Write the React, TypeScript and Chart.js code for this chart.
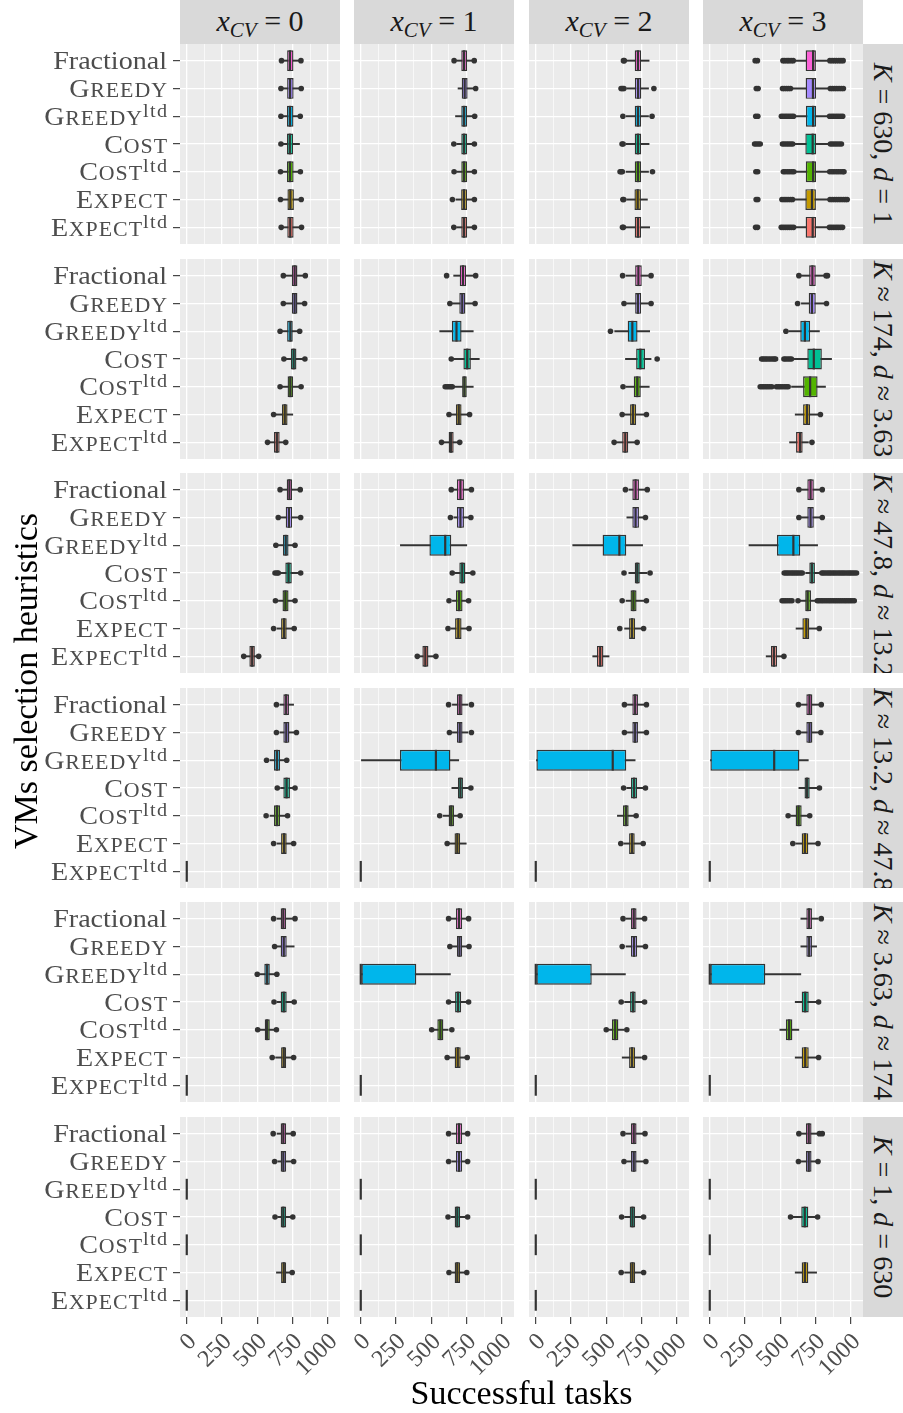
import React, { useEffect, useRef } from 'react';
import { Chart, registerables } from 'chart.js';

Chart.register(...registerables);

// ---------------- data ----------------
const heuristicNames = ['Fractional', 'Greedy', 'Greedy', 'Cost', 'Cost', 'Expect', 'Expect'];
const heuristicSmallCaps = [false, true, true, true, true, true, true];
const heuristicSuperscripts = ['', '', 'ltd', '', 'ltd', '', 'ltd'];
const boxColors = ['#FB61D7', '#A58AFF', '#00B6EB', '#00C094', '#53B400', '#C49A00', '#F8766D'];

const xcvValues = ['0', '1', '2', '3'];
const kRelations = ['=', '≈', '≈', '≈', '≈', '='];
const kValues = ['630', '174', '47.8', '13.2', '3.63', '1'];
const dRelations = ['=', '≈', '≈', '≈', '≈', '='];
const dValues = ['1', '3.63', '13.2', '47.8', '174', '630'];

const xMajorTicks = [0, 250, 500, 750, 1000];
const xMinorTicks = [125, 375, 625, 875];
const xTitle = 'Successful tasks';
const yTitle = 'VMs selection heuristics';

// each tuple: [lower whisker, Q1, median, Q3, upper whisker]; [column][heuristic]
const statsK630 = [
  [[685, 712, 732, 757, 795], [683, 712, 733, 758, 797], [684, 711, 732, 757, 792], [684, 711, 731, 755, 800], [683, 711, 732, 758, 795], [682, 714, 735, 760, 798], [686, 713, 734, 758, 800]],
  [[680, 713, 733, 755, 790], [690, 716, 737, 758, 800], [672, 713, 733, 755, 795], [680, 713, 733, 755, 790], [680, 713, 733, 755, 790], [675, 712, 732, 754, 790], [680, 713, 733, 755, 790]],
  [[645, 702, 725, 748, 804], [645, 703, 726, 749, 800], [642, 702, 725, 748, 800], [642, 702, 725, 748, 804], [640, 702, 725, 748, 800], [645, 700, 723, 746, 792], [642, 702, 725, 748, 808]],
  [[600, 680, 733, 753, 840], [590, 680, 732, 755, 842], [605, 682, 733, 755, 838], [600, 678, 730, 755, 843], [606, 681, 733, 754, 840], [600, 678, 725, 753, 842], [605, 680, 730, 754, 838]],
];
const outliersK630 = [
  [[672, 810], [668, 812], [668, 805], [668], [665, 806], [665, 812], [670, 814]],
  [[662, 805], [815], [808], [660, 806], [662, 806], [650, 806], [660, 806]],
  [[622, 628], [605, 615, 625, 838], [618, 825], [612, 620], [598, 606, 614, 828], [618, 624], [615, 622]],
  [
    [322, 338, 519, 532, 548, 561, 577, 592, 852, 868, 884, 899, 916, 931, 946],
    [330, 343, 516, 529, 544, 558, 573, 855, 870, 886, 901, 917, 933, 948],
    [326, 341, 508, 522, 537, 551, 566, 580, 594, 850, 866, 881, 897, 912, 928, 943],
    [318, 331, 345, 358, 516, 530, 545, 559, 574, 588, 856, 871, 887, 902, 918, 934],
    [327, 340, 522, 535, 551, 566, 582, 596, 851, 867, 882, 898, 913, 929, 944, 952],
    [329, 341, 512, 527, 541, 556, 572, 587, 853, 869, 885, 900, 916, 931, 947, 962, 975],
    [325, 339, 507, 521, 536, 551, 566, 580, 595, 849, 864, 880, 896, 911, 927, 942],
  ],
];

const statsK174 = [
  [[700, 745, 765, 785, 825], [700, 745, 765, 785, 825], [675, 712, 735, 752, 790], [700, 738, 758, 778, 825], [675, 715, 735, 755, 795], [630, 675, 695, 715, 752], [585, 619, 639, 659, 690]],
  [[659, 702, 725, 748, 800], [650, 699, 720, 742, 795], [560, 646, 679, 715, 798], [660, 728, 755, 781, 841], [665, 719, 735, 752, 798], [640, 675, 695, 715, 760], [590, 623, 640, 659, 690]],
  [[640, 705, 728, 752, 800], [645, 705, 725, 748, 800], [560, 652, 685, 722, 808], [636, 712, 742, 775, 818], [640, 695, 720, 745, 805], [630, 669, 690, 712, 770], [575, 613, 635, 656, 705]],
  [[650, 705, 728, 752, 810], [650, 702, 725, 752, 810], [560, 642, 675, 712, 778], [600, 692, 738, 795, 864], [580, 662, 712, 765, 821], [606, 662, 690, 712, 770], [566, 612, 640, 659, 700]],
];
const outliersK174 = [
  [[685, 841], [685, 836], [662, 801], [689, 838], [662, 811], [616], [573, 702]],
  [[609, 815], [632, 811], [], [642], [599, 612, 625, 638, 649], [626, 772], [573, 702]],
  [[616, 818], [626, 818], [530], [861], [619], [613, 785], [556, 719]],
  [
    [632, 825, 835], [623, 828], [540],
    [368, 379, 392, 404, 418, 431, 445, 457, 467, 526, 538, 552, 566, 579],
    [358, 371, 384, 398, 411, 425, 440, 473, 487, 500, 514, 529, 543, 556],
    [785], [725],
  ],
];

const statsK47 = [
  [[680, 709, 728, 748, 790], [670, 702, 725, 748, 790], [650, 682, 702, 722, 755], [660, 699, 722, 745, 790], [650, 679, 700, 722, 755], [640, 669, 690, 709, 750], [420, 444, 464, 483, 500]],
  [[660, 682, 707, 732, 770], [660, 682, 707, 732, 770], [281, 487, 599, 642, 752], [670, 699, 720, 742, 780], [650, 675, 698, 722, 750], [640, 669, 692, 715, 755], [415, 437, 458, 480, 520]],
  [[660, 685, 708, 732, 775], [646, 685, 708, 732, 765], [262, 474, 593, 642, 758], [660, 702, 720, 738, 790], [640, 672, 693, 715, 770], [630, 662, 683, 705, 750], [404, 434, 457, 480, 520]],
  [[650, 692, 715, 738, 780], [650, 692, 715, 738, 780], [278, 477, 593, 642, 765], [680, 706, 725, 746, 785], [640, 677, 694, 718, 756], [612, 657, 685, 706, 765], [400, 434, 455, 477, 510]],
];
const outliersK47 = [
  [[662, 805], [649, 808], [632, 768], [626, 640, 649, 808], [629, 768], [616, 762], [404, 510]],
  [[642, 785], [636, 781], [], [649, 795], [626, 765], [619, 768], [401, 533]],
  [[636, 791], [778], [], [626, 811], [613, 785], [596, 765], []],
  [
    [632, 798], [632, 798], [],
    [528, 541, 553, 566, 579, 591, 604, 617, 629, 643, 656, 795, 806, 819, 833, 846, 858, 872, 884, 897, 911, 924, 937, 949, 962, 976, 989, 1001, 1014, 1027, 1041],
    [513, 526, 539, 553, 568, 583, 626, 763, 776, 790, 803, 817, 831, 845, 858, 872, 886, 899, 913, 927, 941, 955, 968, 982, 996, 1010, 1025],
    [777], [526],
  ],
];

const statsK13 = [
  [[660, 685, 705, 725, 758], [660, 685, 706, 728, 765], [590, 619, 640, 662, 695], [665, 685, 708, 732, 755], [590, 619, 640, 662, 700], [640, 669, 690, 709, 745], [0, 0, 0, 0, 0]],
  [[650, 682, 702, 722, 760], [650, 682, 702, 722, 760], [0, 278, 533, 636, 695], [646, 689, 707, 725, 765], [585, 623, 642, 662, 690], [630, 665, 685, 705, 748], [0, 0, 0, 0, 0]],
  [[650, 685, 705, 725, 770], [650, 685, 705, 725, 770], [0, 0, 546, 642, 705], [645, 675, 697, 719, 760], [579, 619, 640, 659, 695], [625, 662, 683, 702, 745], [0, 0, 0, 0, 0]],
  [[650, 685, 707, 728, 775], [650, 685, 707, 728, 775], [0, 0, 457, 636, 699], [632, 672, 690, 709, 760], [575, 609, 630, 652, 695], [610, 652, 675, 699, 750], [0, 0, 0, 0, 0]],
];
const outliersK13 = [
  [[636], [636, 778], [566, 709], [642, 768], [563, 715], [616, 758], []],
  [[623, 785], [629, 785], [], [781], [560, 705], [613], []],
  [[629, 785], [629, 785], [], [623, 778], [712], [603, 762], []],
  [[629, 791], [629, 788], [], [778], [556, 709], [589, 768], []],
];

const statsK3 = [
  [[640, 666, 685, 705, 750], [640, 666, 688, 709, 762], [520, 550, 570, 589, 625], [640, 666, 688, 709, 750], [520, 553, 570, 589, 620], [630, 669, 688, 705, 745], [0, 0, 0, 0, 0]],
  [[640, 675, 697, 719, 750], [650, 682, 700, 719, 755], [0, 0, 0, 394, 636], [640, 669, 690, 712, 750], [520, 543, 565, 586, 620], [630, 666, 688, 709, 745], [0, 0, 0, 0, 0]],
  [[640, 675, 695, 715, 760], [640, 675, 697, 719, 760], [0, 0, 0, 397, 636], [630, 669, 690, 709, 755], [520, 540, 563, 586, 625], [613, 662, 683, 705, 750], [0, 0, 0, 0, 0]],
  [[646, 685, 705, 725, 770], [646, 685, 705, 725, 758], [0, 0, 0, 394, 646], [606, 652, 677, 702, 755], [497, 540, 563, 586, 632], [606, 652, 677, 702, 755], [0, 0, 0, 0, 0]],
];
const outliersK3 = [
  [[616, 768], [623], [500, 639], [619, 762], [503, 636], [606, 758], []],
  [[623, 765], [632, 768], [], [623, 765], [503, 646], [613, 755], []],
  [[619, 772], [613, 778], [], [606, 772], [500, 646], [772], []],
  [[791], [], [], [772], [], [772], []],
];

const statsK1 = [
  [[640, 666, 685, 705, 740], [645, 666, 685, 705, 740], [0, 0, 0, 0, 0], [645, 666, 685, 705, 740], [0, 0, 0, 0, 0], [636, 669, 688, 705, 735], [0, 0, 0, 0, 0]],
  [[645, 675, 697, 719, 745], [645, 675, 697, 719, 745], [0, 0, 0, 0, 0], [640, 666, 685, 705, 740], [0, 0, 0, 0, 0], [645, 666, 685, 705, 740], [0, 0, 0, 0, 0]],
  [[640, 675, 695, 715, 760], [645, 675, 695, 715, 765], [0, 0, 0, 0, 0], [630, 666, 686, 705, 750], [0, 0, 0, 0, 0], [630, 666, 686, 705, 750], [0, 0, 0, 0, 0]],
  [[650, 682, 702, 722, 765], [650, 682, 702, 722, 755], [0, 0, 0, 0, 0], [590, 649, 674, 699, 750], [0, 0, 0, 0, 0], [606, 652, 675, 699, 758], [0, 0, 0, 0, 0]],
];
const outliersK1 = [
  [[613, 755], [623, 758], [], [626, 752], [], [748], []],
  [[623, 758], [623, 758], [], [619, 758], [], [626, 752], []],
  [[619, 775], [626, 781], [], [609, 765], [], [606, 765], []],
  [[632, 778, 798], [629, 768], [], [573, 765], [], [], []],
];

const rowStats = [statsK630, statsK174, statsK47, statsK13, statsK3, statsK1];
const rowOutliers = [outliersK630, outliersK174, outliersK47, outliersK13, outliersK3, outliersK1];

// ---------------- layout / style ----------------
const FONT = '"Liberation Serif", "Times New Roman", serif';
const COL_LEFT = [180, 354, 529, 703];
const ROW_TOP = [44, 259, 473, 688, 902, 1117];
const PANEL_W = 160;
const PANEL_H = 200;
const Y_AXIS_W = 180;
const X_AXIS_H = 80;
const LABEL_SIZE = 26;
const LABEL_STRETCH = 1.08;
const X_TICK_SIZE = 24;
const STRIP_SIZE = 30;
const SIDE_STRIP_SIZE = 28;
const X_MIN = -48;
const X_MAX = 1087;

const panelBg = {
  id: 'panelBg',
  beforeDraw(chart: any) {
    const { ctx, chartArea: a } = chart;
    ctx.save();
    ctx.fillStyle = '#EBEBEB';
    ctx.fillRect(a.left, a.top, a.right - a.left, a.bottom - a.top);
    ctx.restore();
  },
};

type Seg = { text: string; size: number; dy: number; spacing: number; gap: number };

const yLabels = {
  id: 'yLabels',
  afterDraw(chart: any) {
    const ctx = chart.ctx;
    const ys = chart.scales.y;
    const right = chart.chartArea.left - 13;
    ctx.save();
    ctx.fillStyle = '#4D4D4D';
    ctx.textBaseline = 'alphabetic';
    ctx.textAlign = 'left';
    heuristicNames.forEach((name, i) => {
      const y = ys.getPixelForValue(i + 1) + 8.5;
      const segs: Seg[] = [];
      if (heuristicSmallCaps[i]) {
        segs.push({ text: name[0], size: LABEL_SIZE, dy: 0, spacing: 0, gap: 0 });
        segs.push({ text: name.slice(1).toUpperCase(), size: LABEL_SIZE * 0.78, dy: 0, spacing: 0.9, gap: 0.6 });
      } else {
        segs.push({ text: name, size: LABEL_SIZE, dy: 0, spacing: 0, gap: 0 });
      }
      if (heuristicSuperscripts[i]) {
        segs.push({ text: heuristicSuperscripts[i], size: LABEL_SIZE * 0.72, dy: -LABEL_SIZE * 0.3, spacing: 1.2, gap: 1 });
      }
      const widthOf = (s: Seg) => {
        ctx.font = `${s.size}px ${FONT}`;
        let w = s.gap;
        for (const ch of s.text) w += ctx.measureText(ch).width + s.spacing;
        return w - s.spacing;
      };
      let total = 0;
      segs.forEach((s) => (total += widthOf(s)));
      ctx.save();
      ctx.translate(right, y);
      ctx.scale(LABEL_STRETCH, 1);
      let x = -total;
      segs.forEach((s) => {
        ctx.font = `${s.size}px ${FONT}`;
        x += s.gap;
        for (const ch of s.text) {
          ctx.fillText(ch, x, s.dy);
          x += ctx.measureText(ch).width + s.spacing;
        }
        x -= s.spacing;
      });
      ctx.restore();
    });
    ctx.restore();
  },
};

const xLabels = {
  id: 'xLabels',
  afterDraw(chart: any) {
    const ctx = chart.ctx;
    const xs = chart.scales.x;
    const bottom = chart.chartArea.bottom;
    ctx.save();
    ctx.fillStyle = '#4D4D4D';
    ctx.font = `${X_TICK_SIZE}px ${FONT}`;
    ctx.textAlign = 'right';
    ctx.textBaseline = 'alphabetic';
    xMajorTicks.forEach((v) => {
      const x = xs.getPixelForValue(v);
      ctx.save();
      ctx.translate(x - 1, bottom + 14);
      ctx.rotate(-Math.PI / 4);
      ctx.fillText(String(v), 0, X_TICK_SIZE * 0.68);
      ctx.restore();
    });
    ctx.restore();
  },
};

function Panel({ row, col }: { row: number; col: number }) {
  const ref = useRef<HTMLCanvasElement>(null);
  const isFirst = col === 0;
  const isBottom = row === ROW_TOP.length - 1;
  const leftW = isFirst ? Y_AXIS_W : isBottom ? 14 : 0;
  const width = leftW + PANEL_W;
  const height = PANEL_H + (isBottom ? X_AXIS_H : 0);
  const left = COL_LEFT[col] - leftW;
  const top = ROW_TOP[row];

  useEffect(() => {
    const stats = rowStats[row][col];
    const outs = rowOutliers[row][col];
    const allX = [...xMajorTicks, ...xMinorTicks].sort((a, b) => a - b);
    const isMajor = (v: number) => xMajorTicks.includes(v);
    const plugins: any[] = [panelBg];
    if (isFirst) plugins.push(yLabels);
    if (isBottom) plugins.push(xLabels);
    const chart = new Chart(ref.current as HTMLCanvasElement, {
      type: 'scatter',
      data: {
        datasets: [
          {
            type: 'scatter',
            label: 'median',
            data: stats.map((s, i) => ({ x: s[2], y: i + 1 })),
            pointStyle: 'line',
            pointRotation: 90,
            pointRadius: 10.4,
            pointBorderColor: '#333333',
            pointBorderWidth: 2.2,
            pointBackgroundColor: '#333333',
            order: 0,
          } as any,
          {
            type: 'bar',
            label: 'box',
            indexAxis: 'y',
            grouped: false,
            data: stats.map((s, i) => ({ x: [s[1], s[3]], y: i + 1 })),
            backgroundColor: boxColors,
            borderColor: '#333333',
            borderWidth: 1.4,
            borderSkipped: false,
            barPercentage: 0.75,
            categoryPercentage: 1,
            order: 1,
          } as any,
          {
            type: 'scatter',
            label: 'outliers',
            data: outs.flatMap((arr, i) => arr.map((v) => ({ x: v, y: i + 1 }))),
            pointStyle: 'circle',
            pointRadius: 2.8,
            pointBackgroundColor: '#333333',
            pointBorderWidth: 0,
            order: 2,
          } as any,
          {
            type: 'bar',
            label: 'whisker',
            indexAxis: 'y',
            grouped: false,
            data: stats.map((s, i) => ({ x: [s[0], s[4]], y: i + 1 })),
            backgroundColor: '#333333',
            borderWidth: 0,
            barThickness: 1.3,
            order: 3,
          } as any,
        ],
      },
      options: {
        animation: false,
        responsive: false,
        maintainAspectRatio: false,
        events: [],
        layout: { padding: 0, autoPadding: false },
        plugins: { legend: { display: false }, tooltip: { enabled: false }, title: { display: false } },
        scales: {
          x: {
            type: 'linear',
            position: 'bottom',
            min: X_MIN,
            max: X_MAX,
            offset: false,
            afterBuildTicks: (s: any) => {
              s.ticks = allX.map((v) => ({ value: v }));
            },
            afterFit: (s: any) => {
              s.height = isBottom ? X_AXIS_H : 0;
              s.paddingLeft = 0;
              s.paddingRight = 0;
              s.paddingTop = 0;
              s.paddingBottom = 0;
            },
            border: { display: false },
            grid: {
              offset: false,
              color: '#FFFFFF',
              lineWidth: (c: any) => (c.tick && isMajor(c.tick.value) ? 1.3 : 0.65),
              drawTicks: isBottom,
              tickLength: 7,
              tickWidth: 1.1,
              tickColor: (c: any) => (c.tick && isMajor(c.tick.value) ? '#333333' : 'rgba(0,0,0,0)'),
            },
            ticks: { display: false },
          },
          y: {
            type: 'linear',
            min: 0.4,
            max: 7.6,
            reverse: true,
            offset: false,
            afterBuildTicks: (s: any) => {
              s.ticks = heuristicNames.map((_, i) => ({ value: i + 1 }));
            },
            afterFit: (s: any) => {
              s.width = leftW;
              s.paddingLeft = 0;
              s.paddingRight = 0;
              s.paddingTop = 0;
              s.paddingBottom = 0;
            },
            border: { display: false },
            grid: {
              offset: false,
              color: '#FFFFFF',
              lineWidth: 1.3,
              drawTicks: isFirst,
              tickLength: 7,
              tickWidth: 1.1,
              tickColor: '#333333',
            },
            ticks: { display: false },
          },
        },
      } as any,
      plugins,
    });
    return () => chart.destroy();
  }, [row, col]);

  return (
    <canvas
      ref={ref}
      width={width}
      height={height}
      style={{ position: 'absolute', left, top, width, height }}
    />
  );
}

export default function App() {
  return (
    <div
      style={{
        position: 'absolute',
        left: 0,
        top: 0,
        width: 903,
        height: 1413,
        background: '#FFFFFF',
        overflow: 'hidden',
        fontFamily: FONT,
      }}
    >
      {xcvValues.map((v, c) => (
        <div
          key={'ts' + c}
          style={{
            position: 'absolute',
            left: COL_LEFT[c],
            top: 0,
            width: PANEL_W,
            height: 44,
            background: '#D9D9D9',
            color: '#1A1A1A',
            fontSize: STRIP_SIZE,
            lineHeight: '42px',
            textAlign: 'center',
            whiteSpace: 'nowrap',
          }}
        >
          <i>x</i>
          <span style={{ fontSize: '0.7em', position: 'relative', top: '0.3em' }}>
            <i>CV</i>
          </span>
          {' = ' + v}
        </div>
      ))}
      {kValues.map((k, r) => (
        <div
          key={'rs' + r}
          style={{
            position: 'absolute',
            left: 863,
            top: ROW_TOP[r],
            width: 40,
            height: PANEL_H,
            background: '#D9D9D9',
            overflow: 'hidden',
          }}
        >
          <div
            style={{
              position: 'absolute',
              left: (40 - PANEL_H) / 2,
              top: (PANEL_H - 40) / 2,
              width: PANEL_H,
              height: 40,
              lineHeight: '40px',
              textAlign: 'center',
              whiteSpace: 'nowrap',
              transform: 'rotate(90deg)',
              color: '#1A1A1A',
              fontSize: SIDE_STRIP_SIZE,
            }}
          >
            <i>K</i>
            {' ' + kRelations[r] + ' ' + k + ', '}
            <i>d</i>
            {' ' + dRelations[r] + ' ' + dValues[r]}
          </div>
        </div>
      ))}
      {ROW_TOP.map((_, r) =>
        COL_LEFT.map((__, c) => <Panel key={r + '-' + c} row={r} col={c} />)
      )}
      <div
        style={{
          position: 'absolute',
          left: COL_LEFT[0],
          top: 1373,
          width: COL_LEFT[3] + PANEL_W - COL_LEFT[0],
          height: 40,
          lineHeight: '40px',
          textAlign: 'center',
          fontSize: 34,
          color: '#000000',
          whiteSpace: 'nowrap',
        }}
      >
        {xTitle}
      </div>
      <div
        style={{
          position: 'absolute',
          left: 26 - 250,
          top: 681 - 20,
          width: 500,
          height: 40,
          lineHeight: '40px',
          textAlign: 'center',
          fontSize: 34,
          color: '#000000',
          whiteSpace: 'nowrap',
          transform: 'rotate(-90deg)',
        }}
      >
        {yTitle}
      </div>
    </div>
  );
}
